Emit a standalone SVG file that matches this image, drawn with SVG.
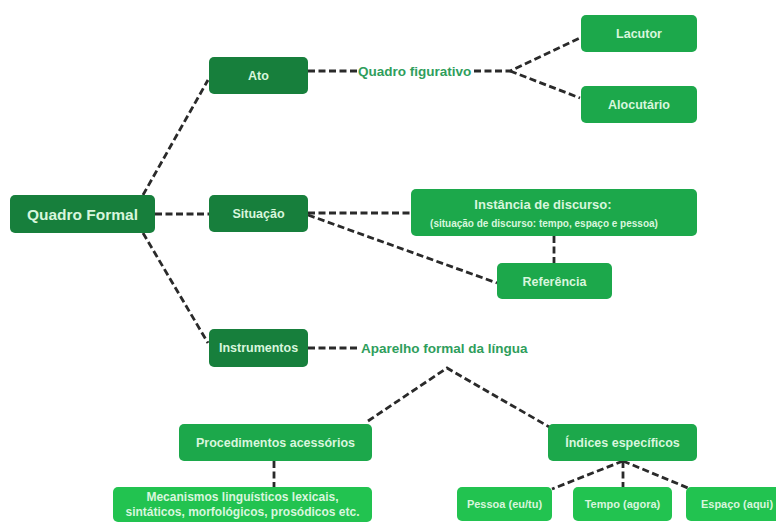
<svg xmlns="http://www.w3.org/2000/svg" width="776" height="523" viewBox="0 0 776 523">
<style>
.dark{fill:#177f3c}
.med{fill:#1ca84b}
.bright{fill:#22c350}
.t{font-family:"Liberation Sans",Arial,sans-serif;font-weight:bold;fill:#d8f6dd;text-anchor:middle}
.lbl{font-family:"Liberation Sans",Arial,sans-serif;font-weight:bold;fill:#2f9e5c;font-size:13.5px}
.c{fill:none;stroke:#2a2a2a;stroke-width:2.8;stroke-dasharray:7 3.5}
</style>
<rect width="776" height="523" fill="#ffffff"/>
<g id="connectors">
<line class="c" x1="143" y1="195" x2="208" y2="80"/>
<line class="c" x1="155" y1="214" x2="209" y2="214"/>
<line class="c" x1="143" y1="233" x2="208" y2="343"/>
<line class="c" x1="308" y1="71" x2="357" y2="71"/>
<polyline class="c" points="474,71 510,71 580,38"/>
<line class="c" x1="510" y1="71" x2="580" y2="98"/>
<line class="c" x1="308" y1="213" x2="411" y2="213"/>
<line class="c" x1="308" y1="215" x2="497" y2="283"/>
<line class="c" x1="554" y1="236" x2="554" y2="263"/>
<line class="c" x1="308" y1="348" x2="359" y2="348"/>
<polyline class="c" points="368,421 447,368 551,428"/>
<line class="c" x1="274" y1="461" x2="274" y2="488"/>
<line class="c" x1="623" y1="461" x2="552" y2="489"/>
<line class="c" x1="623" y1="461" x2="623" y2="488"/>
<line class="c" x1="623" y1="461" x2="688" y2="488"/>
</g>
<g id="quadro-formal"><rect class="dark" x="10" y="195" width="145" height="38" rx="5"/><text class="t" x="82.5" y="220" font-size="15.5">Quadro Formal</text></g>
<g id="ato"><rect class="dark" x="209" y="57" width="99" height="37" rx="5"/><text class="t" x="258.5" y="80" font-size="12.5">Ato</text></g>
<g id="situacao"><rect class="dark" x="209" y="195" width="99" height="37" rx="5"/><text class="t" x="258.5" y="218" font-size="12.5">Situação</text></g>
<g id="instrumentos"><rect class="dark" x="209" y="329" width="99" height="38" rx="5"/><text class="t" x="258.5" y="352" font-size="12.5">Instrumentos</text></g>
<g id="quadro-figurativo"><text class="lbl" x="358" y="75.5">Quadro figurativo</text></g>
<g id="aparelho"><text class="lbl" x="361" y="352.5">Aparelho formal da língua</text></g>
<g id="lacutor"><rect class="med" x="581" y="15" width="116" height="37" rx="5"/><text class="t" x="639" y="38" font-size="12.5">Lacutor</text></g>
<g id="alocutario"><rect class="med" x="581" y="86" width="116" height="37" rx="5"/><text class="t" x="639" y="109" font-size="12.5">Alocutário</text></g>
<g id="instancia"><rect class="med" x="411" y="189" width="286" height="47" rx="5"/><text class="t" x="543" y="208.5" font-size="13">Instância de discurso:</text><text class="t" x="544" y="227" font-size="10">(situação de discurso: tempo, espaço e pessoa)</text></g>
<g id="referencia"><rect class="med" x="497" y="263" width="115" height="36" rx="5"/><text class="t" x="554.5" y="285.5" font-size="12.5">Referência</text></g>
<g id="procedimentos"><rect class="med" x="179" y="424" width="193" height="37" rx="5"/><text class="t" x="275.5" y="447" font-size="12.5">Procedimentos acessórios</text></g>
<g id="indices"><rect class="med" x="548" y="424" width="149" height="37" rx="5"/><text class="t" x="622.5" y="447" font-size="12.5">Índices específicos</text></g>
<g id="mecanismos"><rect class="bright" x="113" y="487" width="259" height="35" rx="5"/><text class="t" x="242.5" y="501" font-size="12">Mecanismos linguísticos lexicais,</text><text class="t" x="242.5" y="516" font-size="12">sintáticos, morfológicos, prosódicos etc.</text></g>
<g id="pessoa"><rect class="bright" x="457" y="487" width="95" height="34" rx="5"/><text class="t" x="504.5" y="508" font-size="11">Pessoa (eu/tu)</text></g>
<g id="tempo"><rect class="bright" x="573" y="487" width="99" height="34" rx="5"/><text class="t" x="622.5" y="508" font-size="11">Tempo (agora)</text></g>
<g id="espaco"><rect class="bright" x="686" y="487" width="102" height="34" rx="5"/><text class="t" x="737" y="508" font-size="11">Espaço (aqui)</text></g>
</svg>
